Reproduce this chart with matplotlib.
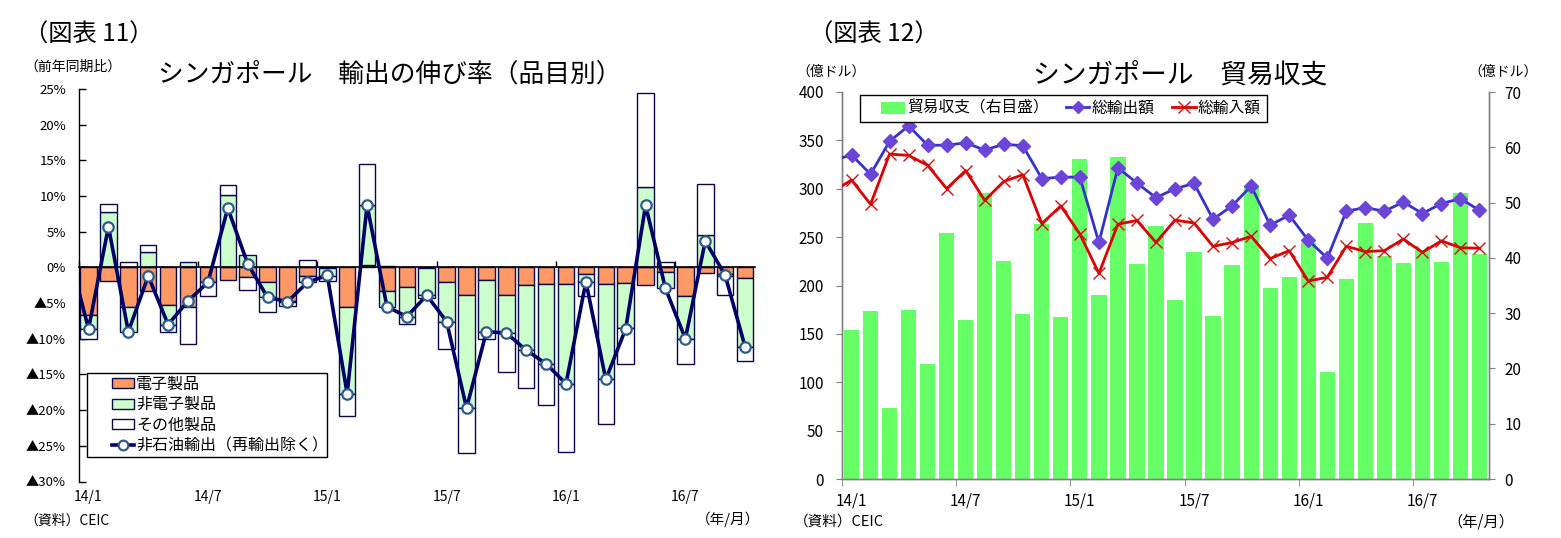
import matplotlib
matplotlib.use('Agg')
import matplotlib.pyplot as plt
import numpy as np
from matplotlib.ticker import FuncFormatter
from matplotlib.patches import Patch, Rectangle
from matplotlib.lines import Line2D

plt.rcParams['font.family'] = ['Noto Sans CJK JP', 'DejaVu Sans']

# ---------------- data ----------------
n_months = 34  # 14/1 .. 16/10
tick_labels = ['14/1', '14/7', '15/1', '15/7', '16/1', '16/7']
tick_index = [0, 6, 12, 18, 24, 30]

# Figure 11: export growth by product (% yoy)
electronics = [-6.7, -1.9, -5.5, -3.3, -5.2, -5.5, -2.0, -1.7, -1.4, -2.0, -4.7, -1.2,
               -0.05, -5.6, 0.4, -3.3, -2.8, -0.05, -2.1, -3.8, -1.7, -3.8, -2.4, -2.3,
               -2.3, -0.95, -2.35, -2.25, -2.5, -0.7, -4.0, -0.85, -0.95, -1.55]
non_electronics = [-2.0, 7.7, -3.6, 2.1, -2.9, 0.7, -0.1, 10.1, 1.8, -2.2, -0.15, -0.9,
                   -1.1, -12.1, 8.3, -2.2, -4.1, -3.8, -5.5, -15.9, -7.3, -5.4, -9.2, -11.2,
                   -14.0, -1.1, -13.3, -6.3, 11.2, -2.25, -6.0, 4.5, -0.2, -9.6]
others = [-1.4, 1.25, 0.8, 1.1, -1.0, -5.3, -1.9, 1.5, -1.8, -2.0, -0.5, 1.0,
          -0.8, -3.1, 5.8, 0.2, -1.0, -0.5, -3.8, -6.3, -1.0, -5.4, -5.3, -5.8,
          -9.5, -2.0, -6.3, -5.0, 13.3, 0.8, -3.5, 7.2, -2.7, -2.0]
nodx_prev = 2.1  # 13/12 (only the segment into the chart is visible)
nodx = [-8.6, 5.7, -9.0, -1.2, -8.0, -4.7, -2.1, 8.3, 0.5, -4.2, -4.8, -2.1,
        -1.1, -17.7, 8.7, -5.5, -6.9, -3.9, -7.6, -19.7, -9.0, -9.2, -11.6, -13.5,
        -16.3, -2.0, -15.7, -8.6, 8.7, -2.95, -10.0, 3.7, -1.1, -11.1]

# Figure 12: trade (100 million USD)
exports_prev = 329
exports = [335, 315, 349, 365, 345, 345, 347.5, 340, 346, 344.5, 310.5, 312,
           312, 244.5, 321.8, 305.8, 290.8, 300, 305.5, 268.5, 282.3, 302.9, 262.4, 272.7,
           246.8, 228.3, 276.7, 280.6, 276.7, 286.3, 274.4, 284.7, 289.8, 277.6]
imports_prev = 297
imports = [309, 284, 335.8, 334.5, 324.2, 300.2, 318.8, 288, 307.5, 314.5, 264, 282.2,
           253.3, 212.5, 263.4, 267.2, 244.5, 267.6, 264.6, 240.5, 244.4, 250.8, 227.8, 236,
           204.6, 208.4, 240.5, 235.1, 236, 248, 234.2, 246.2, 239, 238.5]
balance = [26.9, 30.3, 12.8, 30.5, 20.8, 44.5, 28.8, 51.7, 39.5, 29.9, 46.2, 29.3,
           57.9, 33.2, 58.2, 38.9, 45.7, 32.3, 41.1, 29.4, 38.7, 53.0, 34.6, 36.6,
           42.6, 19.4, 36.1, 46.3, 40.3, 39.1, 41.4, 39.3, 51.8, 40.7]

# ---------------- figure ----------------
W, H = 1561, 538
fig = plt.figure(figsize=(W / 100, H / 100), dpi=100)
fig.patch.set_facecolor('white')


def fx(px):
    return px / W


def fy(py):
    return 1 - py / H


ORANGE = '#FF9966'
LGREEN = '#CCFFCC'
EDGE = '#0A0A4A'
NAVY = '#000066'

# ---------- left chart ----------
axL = fig.add_axes([fx(78.6), fy(481.5), 676.4 / W, 392.5 / H])
x = np.arange(n_months)
pos_b = np.zeros(n_months)
neg_b = np.zeros(n_months)
for vals, col in [(electronics, ORANGE), (non_electronics, LGREEN), (others, 'white')]:
    v = np.array(vals, dtype=float)
    bottom = np.where(v >= 0, pos_b, neg_b)
    axL.bar(x, v, bottom=bottom, width=0.83, color=col, edgecolor=EDGE, linewidth=1.0, zorder=2)
    pos_b += np.where(v > 0, v, 0)
    neg_b += np.where(v < 0, v, 0)

xl = np.arange(-1, n_months)
axL.plot(xl, [nodx_prev] + nodx, color=NAVY, lw=2.6, marker='o', ms=7.5,
         mfc='white', mec='#2E5C8A', mew=1.6, zorder=4, clip_on=True)

axL.set_xlim(-0.5, n_months - 0.5)
axL.set_ylim(-30, 25)
axL.set_yticks(np.arange(-30, 26, 5))
axL.yaxis.set_major_formatter(FuncFormatter(
    lambda v, p: f'{int(round(v))}%' if v >= 0 else f'▲{int(round(-v))}%'))
axL.tick_params(axis='y', direction='in', length=5, width=1, labelsize=9.5, pad=9, colors='black')
for s in ['top', 'right']:
    axL.spines[s].set_visible(False)
axL.spines['left'].set_linewidth(1.0)
axL.spines['bottom'].set_position(('data', 0))
axL.spines['bottom'].set_linewidth(1.2)
axL.set_xticks([i - 0.5 for i in tick_index])
axL.set_xticklabels([])
axL.tick_params(axis='x', direction='in', length=4, width=1)
sec = axL.secondary_xaxis(0)
sec.set_xticks(tick_index)
sec.set_xticklabels(tick_labels)
sec.tick_params(length=0, pad=6, labelsize=10)
sec.spines['bottom'].set_visible(False)

# legend frame + legend
axL.add_patch(Rectangle((fx(87), fy(457)), 240 / W, 84 / H, transform=fig.transFigure,
                        facecolor='white', edgecolor='black', lw=1.0, zorder=5, clip_on=False))
legL = axL.legend(
    handles=[Patch(facecolor=ORANGE, edgecolor=EDGE, lw=1),
             Patch(facecolor=LGREEN, edgecolor=EDGE, lw=1),
             Patch(facecolor='white', edgecolor=EDGE, lw=1),
             Line2D([], [], color=NAVY, lw=2.6, marker='o', ms=7, mfc='white', mec='#2E5C8A', mew=1.6)],
    labels=['電子製品', '非電子製品', 'その他製品', '非石油輸出（再輸出除く）'],
    loc='center left', bbox_to_anchor=(fx(112), fy(415)), bbox_transform=fig.transFigure,
    borderaxespad=0, borderpad=0, fontsize=11.5, frameon=False,
    handlelength=1.4, handleheight=0.6, handletextpad=0.1, labelspacing=0.22)
legL.set_zorder(6)

fig.text(fx(24), fy(35), '（図表 11）', fontsize=17.5, va='center', ha='left')
fig.text(fx(24), fy(67), '（前年同期比）', fontsize=10, va='center', ha='left')
fig.text(fx(390), fy(75), 'シンガポール　輸出の伸び率（品目別）', fontsize=18.5, va='center', ha='center')
fig.text(fx(24), fy(521), '（資料）CEIC', fontsize=10, va='center', ha='left')
fig.text(fx(760), fy(519), '（年/月）', fontsize=10.5, va='center', ha='right')

# ---------- right chart ----------
GRAY = '#808080'
axR = fig.add_axes([fx(842), fy(479), 647 / W, 387 / H])
ax2 = axR.twinx()
ax2.bar(x, balance, width=0.8, color='#66FF66', zorder=1)
axR.plot(xl, [exports_prev] + exports, color='#3333CC', lw=2.0, marker='D', ms=7.5,
         mfc='#6A45D8', mec='#6A45D8', zorder=4)
axR.plot(xl, [imports_prev] + imports, color='#DD0000', lw=2.0, marker='x', ms=9,
         mec='#CC1111', mew=1.0, zorder=3)
axR.set_zorder(ax2.get_zorder() + 1)
axR.patch.set_visible(False)
axR.set_xlim(-0.5, n_months - 0.5)
ax2.set_xlim(-0.5, n_months - 0.5)
axR.set_ylim(0, 400)
ax2.set_ylim(0, 70)
axR.set_yticks(np.arange(0, 401, 50))
ax2.set_yticks(np.arange(0, 71, 10))
for a in (axR, ax2):
    a.spines['top'].set_visible(False)
    for s in ['left', 'right', 'bottom']:
        a.spines[s].set_color(GRAY)
        a.spines[s].set_linewidth(1.0)
axR.tick_params(axis='y', direction='out', length=4, color=GRAY, labelsize=11, pad=9)
ax2.tick_params(axis='y', direction='out', length=4, color=GRAY, labelsize=11, pad=7)
axR.set_xticks(tick_index)
axR.set_xticklabels(tick_labels)
axR.set_xticks([i - 0.5 for i in tick_index], minor=True)
axR.tick_params(axis='x', which='major', length=0, labelsize=11, pad=10)
axR.tick_params(axis='x', which='minor', direction='out', length=5, color=GRAY)
ax2.tick_params(axis='x', which='both', length=0, labelbottom=False)

axR.add_patch(Rectangle((fx(860), fy(122)), 407 / W, 27 / H, transform=fig.transFigure,
                        facecolor='white', edgecolor='black', lw=1.0, zorder=5, clip_on=False))
legR = axR.legend(
    handles=[Patch(facecolor='#66FF66', edgecolor='none'),
             Line2D([], [], color='#3333CC', lw=2.0, marker='D', ms=6.5, mfc='#6A45D8', mec='#6A45D8'),
             Line2D([], [], color='#DD0000', lw=2.0, marker='x', ms=8, mec='#CC1111', mew=1.0)],
    labels=['貿易収支（右目盛）', '総輸出額', '総輸入額'],
    loc='center left', bbox_to_anchor=(fx(881), fy(108.5)), bbox_transform=fig.transFigure,
    borderaxespad=0, borderpad=0, ncol=3, fontsize=11.3, frameon=False,
    handlelength=1.5, handleheight=0.8, handletextpad=0.15, columnspacing=1.1)
legR.set_zorder(6)

fig.text(fx(809), fy(35), '（図表 12）', fontsize=17.5, va='center', ha='left')
fig.text(fx(796), fy(72), '（億ドル）', fontsize=10, va='center', ha='left')
fig.text(fx(1538), fy(72), '（億ドル）', fontsize=10, va='center', ha='right')
fig.text(fx(1180), fy(75), 'シンガポール　貿易収支', fontsize=19.3, va='center', ha='center')
fig.text(fx(794), fy(522), '（資料）CEIC', fontsize=10.5, va='center', ha='left')
fig.text(fx(1514), fy(522), '（年/月）', fontsize=11, va='center', ha='right')

fig.savefig('out.png', dpi=100)
